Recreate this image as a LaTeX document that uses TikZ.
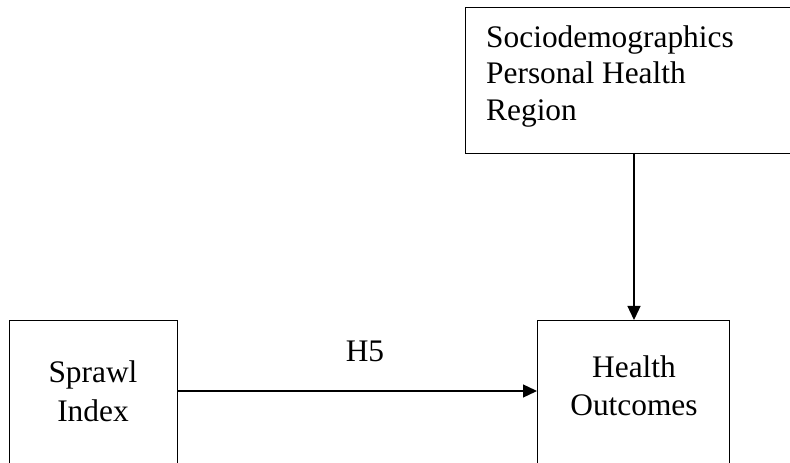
\documentclass[tikz,border=0pt]{standalone}
\usepackage{fontspec}
\setmainfont{Liberation Serif}
\usetikzlibrary{arrows.meta}
\begin{document}
\begin{tikzpicture}[x=1bp,y=-1bp,
  box/.style={draw=black,line width=1.3bp,fill=none,inner sep=0pt,anchor=north west},
  lbl/.style={inner sep=0pt,font=\fontsize{31.5}{36}\selectfont},
  link/.style={draw=black,line width=1.3bp,-{Triangle[length=14bp,width=13bp]}}]
\useasboundingbox (0,0) rectangle (790,463);
\clip (0,0) rectangle (790,463);
% boxes
\node[box,minimum width=360bp,minimum height=146bp] (ctrl) at (465,7) {};
\node[box,minimum width=168bp,minimum height=170bp] (sprawl) at (9,320) {};
\node[box,minimum width=192bp,minimum height=170bp] (health) at (537,320) {};
% box texts
\node[lbl,anchor=base west] (c1) at (486,48) {Sociodemographics};
\node[lbl,anchor=base west] (c2) at (486,84) {Personal Health};
\node[lbl,anchor=base west] (c3) at (486,121) {Region};
\node[lbl,anchor=base] (s1) at (93,383) {Sprawl};
\node[lbl,anchor=base] (s2) at (93,421) {Index};
\node[lbl,anchor=base] (h1) at (634,378) {Health};
\node[lbl,anchor=base] (h2) at (634,415) {Outcomes};
\node[lbl,anchor=base] (h5) at (365,362) {H5};
% connectors
\coordinate (ctrlfoot) at (634,153);
\coordinate (healthtop) at (634,320);
\coordinate (sprawlout) at (177,391);
\coordinate (healthin) at (537,391);
\draw[link] (ctrlfoot) -- (healthtop);
\draw[link] (sprawlout) -- (healthin);
\end{tikzpicture}
\end{document}
